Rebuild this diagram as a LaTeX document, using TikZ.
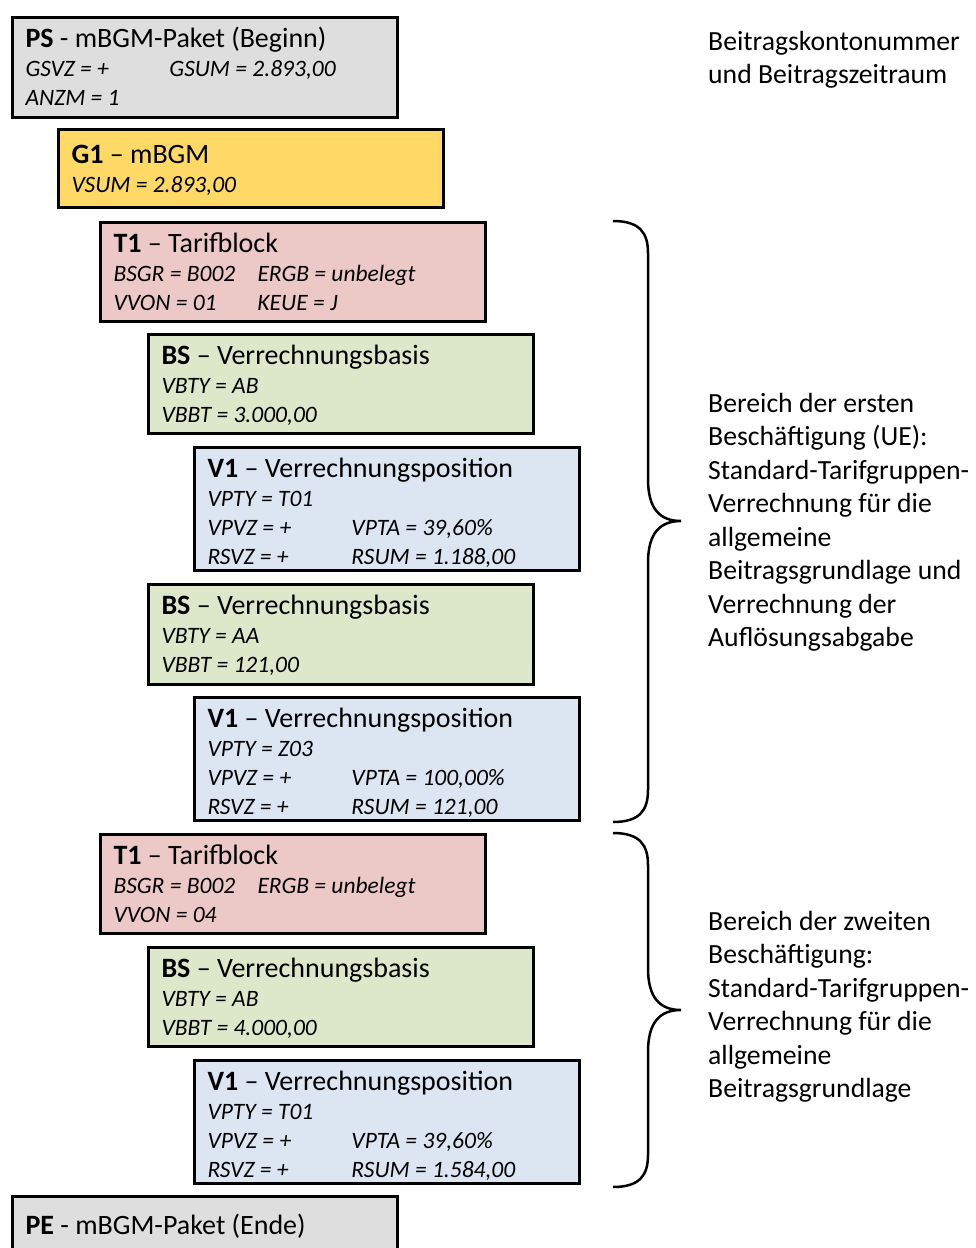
\documentclass[tikz,border=0pt]{standalone}
\usepackage{fontspec}
\setmainfont{Carlito}

\definecolor{pkgray}{RGB}{222,222,222}
\definecolor{mbgold}{RGB}{255,217,102}
\definecolor{tarifrose}{RGB}{236,200,199}
\definecolor{basisgreen}{RGB}{221,231,202}
\definecolor{posblue}{RGB}{220,230,242}

\newcommand{\hd}[2]{{\fontsize{28}{30}\selectfont\textbf{#1}#2\par}}
\newcommand{\kv}[2]{\makebox[144pt][l]{#1}#2}
\newcommand{\attrs}[1]{{\fontsize{23.5}{29}\selectfont\itshape #1\par}}
\newcommand{\inbox}[1]{\parbox[t]{359pt}{#1}}

\tikzset{
  blk/.style={draw, line width=2.8pt, anchor=north west, inner xsep=13pt,
    inner ysep=0pt, outer sep=0pt, text height=30pt},
  note/.style={anchor=base west, inner sep=0pt}
}

\begin{document}
\begin{tikzpicture}[x=1pt,y=-1pt]
		\useasboundingbox[fill=white] (0,0) rectangle (976,1248);
		\clip (0,0) rectangle (976,1248);
		% segments of the package
		\node[blk, fill=pkgray, text depth=70pt] (ps) at (12.5,17.5)
			{\inbox{\hd{PS}{ - mBGM-Paket (Beginn)}\attrs{\kv{GSVZ = +}{GSUM = 2.893,00}\\ANZM = 1}}};
		\node[blk, fill=mbgold, text height=34pt, text depth=44pt] (gone) at (58.5,129.5)
			{\inbox{\hd{G1}{ -- mBGM}\attrs{VSUM = 2.893,00}}};
		% first employment
		\node[blk, fill=tarifrose, text depth=69pt] (tone) at (100.5,222.5)
			{\inbox{\hd{T1}{ -- Tarifblock}\attrs{\kv{BSGR = B002}{ERGB = unbelegt}\\\kv{VVON = 01}{KEUE = J}}}};
		\node[blk, fill=basisgreen, text depth=69pt] (bsone) at (148.5,334.5)
			{\inbox{\hd{BS}{ -- Verrechnungsbasis}\attrs{VBTY = AB\\VBBT = 3.000,00}}};
		\node[blk, fill=posblue, text depth=93pt] (vone) at (194.5,447.5)
			{\inbox{\hd{V1}{ -- Verrechnungsposition}\attrs{VPTY = T01\\\kv{VPVZ = +}{VPTA = 39,60\%}\\\kv{RSVZ = +}{RSUM = 1.188,00}}}};
		\node[blk, fill=basisgreen, text depth=70pt] (bstwo) at (148.5,584.5)
			{\inbox{\hd{BS}{ -- Verrechnungsbasis}\attrs{VBTY = AA\\VBBT = 121,00}}};
		\node[blk, fill=posblue, text depth=93pt] (vtwo) at (194.5,697.5)
			{\inbox{\hd{V1}{ -- Verrechnungsposition}\attrs{VPTY = Z03\\\kv{VPVZ = +}{VPTA = 100,00\%}\\\kv{RSVZ = +}{RSUM = 121,00}}}};
		% second employment
		\node[blk, fill=tarifrose, text depth=69pt] (ttwo) at (100.5,834.5)
			{\inbox{\hd{T1}{ -- Tarifblock}\attrs{\kv{BSGR = B002}{ERGB = unbelegt}\\VVON = 04}}};
		\node[blk, fill=basisgreen, text depth=69pt] (bsthree) at (148.5,947.5)
			{\inbox{\hd{BS}{ -- Verrechnungsbasis}\attrs{VBTY = AB\\VBBT = 4.000,00}}};
		\node[blk, fill=posblue, text depth=93pt] (vthree) at (194.5,1060.5)
			{\inbox{\hd{V1}{ -- Verrechnungsposition}\attrs{VPTY = T01\\\kv{VPVZ = +}{VPTA = 39,60\%}\\\kv{RSVZ = +}{RSUM = 1.584,00}}}};
		\node[blk, fill=pkgray, text height=38pt, text depth=80pt] (pe) at (12.5,1196.5)
			{\inbox{\hd{PE}{ - mBGM-Paket (Ende)}}};
		% braces
		\foreach \t/\m/\b in {221/521/822, 833/1010/1187}
			\draw[line width=2.5pt] (613,\t) .. controls (640,\t) and (648,\t+12) .. (648,\t+32)
				-- (648,\m-42) .. controls (648,\m-12) and (660,\m) .. (681,\m)
				.. controls (660,\m) and (648,\m+12) .. (648,\m+42)
				-- (648,\b-32) .. controls (648,\b-12) and (640,\b) .. (613,\b);
		% notes on the right
		\node[note] (acct) at (708,50)
			{\parbox[t]{268pt}{\fontsize{27.7}{33.5}\selectfont\raggedright Beitragskontonummer\\und Beitragszeitraum}};
		\node[note] (first) at (708,412)
			{\parbox[t]{268pt}{\fontsize{27.7}{33.5}\selectfont\raggedright Bereich der ersten\\Beschäftigung (UE):\\Standard-Tarifgruppen-\\Verrechnung für die\\allgemeine\\Beitragsgrundlage und\\Verrechnung der\\Auflösungsabgabe}};
		\node[note] (second) at (708,930)
			{\parbox[t]{268pt}{\fontsize{27.7}{33.5}\selectfont\raggedright Bereich der zweiten\\Beschäftigung:\\Standard-Tarifgruppen-\\Verrechnung für die\\allgemeine\\Beitragsgrundlage}};
		\end{tikzpicture}
\end{document}
